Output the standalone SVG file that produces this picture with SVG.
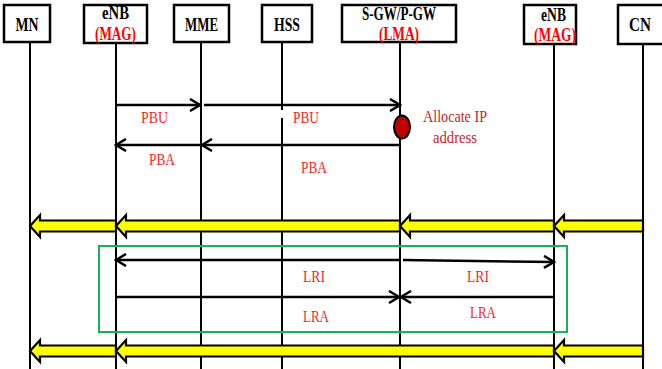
<svg xmlns="http://www.w3.org/2000/svg" width="662" height="369" viewBox="0 0 662 369">
<defs>
<style>
.box{fill:#fff;stroke:#000;stroke-width:2.5}
.life{stroke:#000;stroke-width:2;fill:none}
.hd{font-family:"Liberation Serif",serif;font-weight:bold;font-size:18px;fill:#000;text-anchor:middle}
.hr{font-family:"Liberation Serif",serif;font-weight:bold;font-size:18px;fill:#ff0000;text-anchor:middle}
.lbl{font-family:"Liberation Serif",serif;font-size:17px;fill:#ee2a2a;text-anchor:middle}
.note{font-family:"Liberation Serif",serif;font-size:17px;fill:#c4262c;text-anchor:middle}
.msg{stroke:#000;stroke-width:2.5;fill:none}
.ya{fill:#ffff00;stroke:#000;stroke-width:2.2;stroke-linejoin:miter}
</style>
<marker id="ah" markerUnits="userSpaceOnUse" markerWidth="14" markerHeight="14" refX="11" refY="7" orient="auto" viewBox="0 0 14 14">
<path d="M1,1 L11,7 L1,13" fill="none" stroke="#000" stroke-width="2.5"/>
</marker>
</defs>

<g id="lifelines">
<line class="life" x1="30" y1="42" x2="30" y2="369"/>
<line class="life" x1="116" y1="43" x2="116" y2="369"/>
<line class="life" x1="201" y1="42" x2="201" y2="369"/>
<line class="life" x1="282" y1="42" x2="282" y2="110"/>
<line class="life" x1="282" y1="118" x2="282" y2="369"/>
<line class="life" x1="400" y1="42" x2="400" y2="369"/>
<line class="life" x1="554" y1="44" x2="554" y2="369"/>
<line class="life" x1="643" y1="44" x2="643" y2="369"/>
</g>

<g id="node-MN">
<rect class="box" x="4" y="5" width="46" height="37"/>
<text class="hd" x="27" y="31" textLength="23" lengthAdjust="spacingAndGlyphs">MN</text>
</g>
<g id="node-eNB1">
<rect class="box" x="84" y="5" width="63" height="38"/>
<text class="hd" x="115.5" y="19" textLength="27" lengthAdjust="spacingAndGlyphs">eNB</text>
<text class="hr" x="115.5" y="40" textLength="41" lengthAdjust="spacingAndGlyphs">(MAG)</text>
</g>
<g id="node-MME">
<rect class="box" x="174" y="5" width="55" height="37"/>
<text class="hd" x="201.5" y="31" textLength="33" lengthAdjust="spacingAndGlyphs">MME</text>
</g>
<g id="node-HSS">
<rect class="box" x="262" y="5" width="50" height="37"/>
<text class="hd" x="287" y="31" textLength="26" lengthAdjust="spacingAndGlyphs">HSS</text>
</g>
<g id="node-SGW">
<rect class="box" x="342" y="5" width="114" height="37"/>
<text class="hd" x="399" y="20" textLength="74" lengthAdjust="spacingAndGlyphs">S-GW/P-GW</text>
<text class="hr" x="399" y="40" textLength="40" lengthAdjust="spacingAndGlyphs">(LMA)</text>
</g>
<g id="node-eNB2">
<rect class="box" x="524" y="5" width="52" height="39"/>
<text class="hd" x="553.5" y="21" textLength="25" lengthAdjust="spacingAndGlyphs">eNB</text>
<text class="hr" x="555" y="41" textLength="42" lengthAdjust="spacingAndGlyphs">(MAG)</text>
</g>
<g id="node-CN">
<rect class="box" x="618" y="5" width="50" height="39"/>
<text class="hd" x="640" y="31" textLength="22" lengthAdjust="spacingAndGlyphs">CN</text>
</g>

<g id="node-allocate">
<ellipse cx="402" cy="127" rx="8" ry="11.5" fill="#c00000" stroke="#000" stroke-width="2"/>
<text class="note" x="455" y="122" textLength="64" lengthAdjust="spacingAndGlyphs">Allocate IP</text>
<text class="note" x="455" y="143" textLength="44" lengthAdjust="spacingAndGlyphs">address</text>
</g>

<g id="connectors">
<line class="msg" x1="116" y1="105" x2="200" y2="105" marker-end="url(#ah)"/>
<line class="msg" x1="204" y1="105" x2="400" y2="105" marker-end="url(#ah)"/>
<line class="msg" x1="400" y1="145" x2="202" y2="145" marker-end="url(#ah)"/>
<line class="msg" x1="202" y1="145" x2="116" y2="145" marker-end="url(#ah)"/>
<line class="msg" x1="400" y1="260" x2="116" y2="260" marker-end="url(#ah)"/>
<line class="msg" x1="403" y1="260" x2="554" y2="262" marker-end="url(#ah)"/>
<line class="msg" x1="116" y1="297" x2="399" y2="297" marker-end="url(#ah)"/>
<line class="msg" x1="553" y1="297" x2="401" y2="297" marker-end="url(#ah)"/>

<polygon class="ya" points="30,226 40,215 40,220.5 116,220.5 116,231.5 40,231.5 40,237"/>
<polygon class="ya" points="116,226 126,215 126,220.5 400,220.5 400,231.5 126,231.5 126,237"/>
<polygon class="ya" points="400,226 410,215 410,220.5 554,220.5 554,231.5 410,231.5 410,237"/>
<polygon class="ya" points="554,226 564,215 564,220.5 643,220.5 643,231.5 564,231.5 564,237"/>

<polygon class="ya" points="30,351 40,340 40,345.5 116,345.5 116,356.5 40,356.5 40,362"/>
<polygon class="ya" points="116,351 126,340 126,345.5 554,345.5 554,356.5 126,356.5 126,362"/>
<polygon class="ya" points="554,351 564,340 564,345.5 643,345.5 643,356.5 564,356.5 564,362"/>
</g>

<g id="labels">
<text class="lbl" x="154.5" y="123" textLength="27" lengthAdjust="spacingAndGlyphs">PBU</text>
<text class="lbl" x="306" y="123" textLength="26" lengthAdjust="spacingAndGlyphs">PBU</text>
<text class="lbl" x="162" y="165" textLength="26" lengthAdjust="spacingAndGlyphs">PBA</text>
<text class="lbl" x="314" y="173" textLength="26" lengthAdjust="spacingAndGlyphs">PBA</text>
<text class="lbl" x="314" y="282" textLength="22" lengthAdjust="spacingAndGlyphs">LRI</text>
<text class="lbl" x="478" y="282" textLength="22" lengthAdjust="spacingAndGlyphs">LRI</text>
<text class="lbl" x="316" y="322" textLength="26" lengthAdjust="spacingAndGlyphs">LRA</text>
<text class="lbl" x="483" y="318" textLength="26" lengthAdjust="spacingAndGlyphs">LRA</text>
</g>

<g id="node-group">
<rect x="99" y="246" width="468" height="86" fill="none" stroke="#1aaf54" stroke-width="2"/>
</g>
</svg>
